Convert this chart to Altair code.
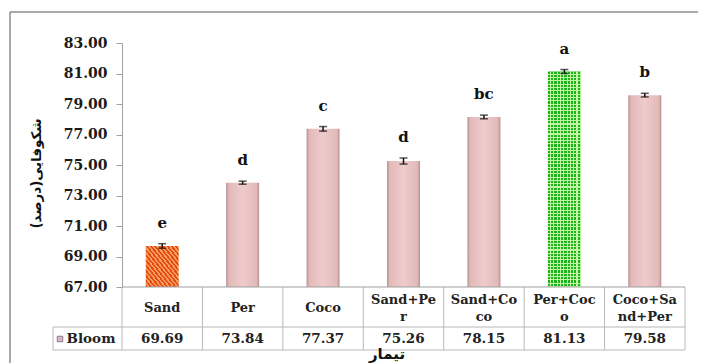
import altair as alt
import pandas as pd

categories = ["Sand", "Per", "Coco", "Sand+Per", "Sand+Coco", "Per+Coco", "Coco+Sand+Per"]
cat_labels = ["Sand", "Per", "Coco", "Sand+Pe\nr", "Sand+Co\nco", "Per+Coc\no", "Coco+Sa\nnd+Per"]
values = [69.69, 73.84, 77.37, 75.26, 78.15, 81.13, 79.58]
errors = [0.15, 0.10, 0.15, 0.20, 0.12, 0.13, 0.12]
letters = ["e", "d", "c", "d", "bc", "a", "b"]
patterns = ["hatch", "plain", "plain", "plain", "plain", "check", "plain"]
y_ticks = [67, 69, 71, 73, 75, 77, 79, 81, 83]
series_name = "Bloom"
y_title = "\u200fشکوفایی(درصد)\u200f"
x_title = "تیمار"

df = pd.DataFrame({"cat": categories, "label": cat_labels, "value": values,
                   "err": errors, "letter": letters, "pattern": patterns})
df["lo"] = df["value"] - df["err"]
df["hi"] = df["value"] + df["err"]
df["base"] = float(y_ticks[0])
df["multi"] = df["label"].str.contains("\n")

SERIF = "DejaVu Serif"
PERS = "DejaVu Sans"
W, H = 563, 244


def stripes(c1, c2, n, frac, x1, y1, x2, y2):
    stops = []
    for i in range(n):
        a = round(i / n, 5)
        b = round((i + frac) / n, 5)
        c = round((i + 1) / n, 5)
        stops += [alt.GradientStop(offset=a, color=c1), alt.GradientStop(offset=b, color=c1),
                  alt.GradientStop(offset=b, color=c2), alt.GradientStop(offset=c, color=c2)]
    return alt.LinearGradient(gradient="linear", stops=stops, x1=x1, y1=y1, x2=x2, y2=y2)


hatch_fill = stripes("#E24C10", "#F99A5E", 16, 0.5, 0, 1, 1, 0)
check_h = stripes("#1DB31D", "#BFF2A0", 65, 0.68, 0, 0, 0, 1)
check_v = stripes("rgba(0,0,0,0)", "rgba(196,245,165,1)", 10, 0.68, 0, 0, 1, 0)
pink_fill = alt.LinearGradient(gradient="linear", x1=0, y1=0, x2=1, y2=0, stops=[
    alt.GradientStop(offset=0, color="#B48E8E"),
    alt.GradientStop(offset=0.08, color="#E2B9B9"),
    alt.GradientStop(offset=0.5, color="#EFCBCB"),
    alt.GradientStop(offset=0.92, color="#E2B9B9"),
    alt.GradientStop(offset=1, color="#B48E8E")])

xscale = alt.Scale(paddingInner=0, paddingOuter=0)
X = alt.X("cat:N", sort=categories, scale=xscale, axis=None)
yscale = alt.Scale(domain=[y_ticks[0], y_ticks[-1]], nice=False, zero=False)
y_axis = alt.Axis(
    values=y_ticks, format=".2f", grid=False,
    labelFont=SERIF, labelFontWeight="bold", labelFontSize=14, labelColor="#1A1A1A",
    tickSize=6, tickColor="#A0A0A0", domainColor="#A0A0A0", labelPadding=9,
    title=y_title, titleFont=PERS, titleFontSize=13.5, titleFontWeight="bold",
    titleColor="#111111", titleX=-86, titleY=130, titleAlign="center",
    titleBaseline="middle")


def Y(field):
    return alt.Y(field, type="quantitative", scale=yscale, axis=y_axis)


bw = alt.RelativeBandSize(0.41)
base = alt.Chart(df)

hatch = base.mark_bar(width=bw, fill=hatch_fill).encode(x=X, y=Y("value"), y2="base").transform_filter(
    alt.datum.pattern == "hatch")
pink = base.mark_bar(width=bw, fill=pink_fill).encode(x=X, y=Y("value"), y2="base").transform_filter(
    alt.datum.pattern == "plain")
green1 = base.mark_bar(width=bw, fill=check_h).encode(x=X, y=Y("value"), y2="base").transform_filter(
    alt.datum.pattern == "check")
green2 = base.mark_bar(width=bw, fill=check_v).encode(x=X, y=Y("value"), y2="base").transform_filter(
    alt.datum.pattern == "check")

err_rule = base.mark_rule(color="#111111", strokeWidth=1.5).encode(
    x=X, y=Y("lo"), y2="hi")
cap_lo = base.mark_tick(color="#111111", thickness=1.5, size=8).encode(x=X, y=Y("lo"))
cap_hi = base.mark_tick(color="#111111", thickness=1.5, size=8).encode(x=X, y=Y("hi"))

letters_t = base.mark_text(font=SERIF, fontWeight="bold", fontSize=15, dy=-21,
                           baseline="middle", color="#111111").encode(
    x=X, y=Y("hi"), text="letter:N")

# table
one = alt.Chart(pd.DataFrame({"t": [series_name]}))
grid_c = "#B8B8B8"
cat_text1 = base.mark_text(font=SERIF, fontWeight="bold", fontSize=13,
                           baseline="middle", color="#222222").encode(
    x=X, y=alt.value(265), text="label:N").transform_filter("!datum.multi")
cat_text2 = base.mark_text(font=SERIF, fontWeight="bold", fontSize=13, lineBreak="\n",
                           lineHeight=17, baseline="middle", color="#222222").encode(
    x=X, y=alt.value(256.5), text="label:N").transform_filter("datum.multi")
val_text = base.mark_text(font=SERIF, fontWeight="bold", fontSize=13.5,
                          baseline="middle", color="#222222").encode(
    x=X, y=alt.value(296), text=alt.Text("value:Q", format=".2f"))
bloom_text = one.mark_text(font=SERIF, fontWeight="bold", fontSize=13.5, baseline="middle",
                           color="#222222").encode(x=alt.value(-31), y=alt.value(296), text="t:N")
bloom_sq = one.mark_square(size=30, fill="#D9B5C5", stroke="#8A7A8A", strokeWidth=1, opacity=1).encode(
    x=alt.value(-62), y=alt.value(296))

vlines = base.mark_rule(color=grid_c, strokeWidth=1).encode(
    x=alt.X("cat:N", sort=categories, scale=xscale, axis=None, bandPosition=1),
    y=alt.value(H), y2=alt.value(307))
vline0 = one.mark_rule(color=grid_c, strokeWidth=1).encode(
    x=alt.value(0), y=alt.value(H), y2=alt.value(307))
vline_left = one.mark_rule(color=grid_c, strokeWidth=1).encode(
    x=alt.value(-69), y=alt.value(284), y2=alt.value(307))
hline_top = one.mark_rule(color="#A0A0A0", strokeWidth=1).encode(
    x=alt.value(0), x2=alt.value(W), y=alt.value(H))
hline_mid = one.mark_rule(color=grid_c, strokeWidth=1).encode(
    x=alt.value(-69), x2=alt.value(W), y=alt.value(284))
hline_bot = one.mark_rule(color=grid_c, strokeWidth=1).encode(
    x=alt.value(-69), x2=alt.value(W), y=alt.value(307))

x_title_t = alt.Chart(pd.DataFrame({"t": [x_title]})).mark_text(
    font=PERS, fontWeight="bold", fontSize=15, baseline="middle", color="#111111").encode(
    x=alt.value(265), y=alt.value(311), text="t:N")

border_top = one.mark_rule(color="#8C8C8C", strokeWidth=1.5).encode(
    x=alt.value(-112), x2=alt.value(W + 20), y=alt.value(-31))
border_left = one.mark_rule(color="#8C8C8C", strokeWidth=1.5).encode(
    x=alt.value(-112), y=alt.value(-31), y2=alt.value(H + 80))

chart = alt.layer(
    hatch, pink, green1, green2, err_rule, cap_lo, cap_hi, letters_t,
    vlines, vline0, vline_left, hline_top, hline_mid, hline_bot,
    cat_text1, cat_text2, val_text, bloom_text, bloom_sq, x_title_t, border_top, border_left
).properties(
    width=W, height=H,
    padding={"left": 114, "top": 35, "right": 13, "bottom": 76},
    autosize=alt.AutoSizeParams(type="none"),
    background="white"
).configure_view(stroke=None)

chart.save("out.html", embed_options={"renderer": "svg", "actions": False})
